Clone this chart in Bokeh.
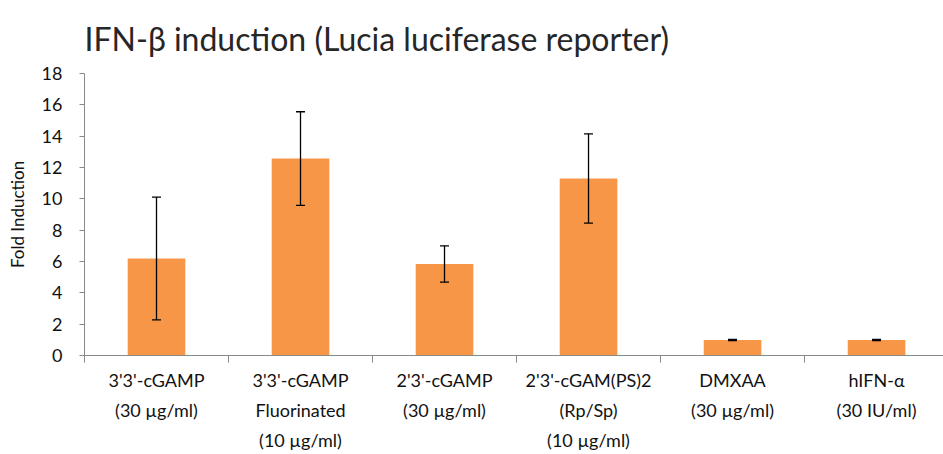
from bokeh.plotting import figure
from bokeh.models import Range1d, FixedTicker, Whisker, ColumnDataSource, TeeHead
from bokeh.embed import file_html
from bokeh.resources import INLINE

categories = ["3'3'-cGAMP\n(30 µg/ml)", "3'3'-cGAMP\nFluorinated\n(10 µg/ml)", "2'3'-cGAMP\n(30 µg/ml)",
              "2'3'-cGAM(PS)2\n(Rp/Sp)\n(10 µg/ml)", "DMXAA\n(30 µg/ml)", "hIFN-α\n(30 IU/ml)"]
values = [6.19, 12.57, 5.84, 11.30, 0.99, 0.99]
errors = [3.92, 2.99, 1.16, 2.85, 0.04, 0.04]
y_ticks = [0, 2, 4, 6, 8, 10, 12, 14, 16, 18]

xs = [i + 0.5 for i in range(len(categories))]
bounds = list(range(len(categories) + 1))

src = ColumnDataSource(dict(x=xs, top=values,
                            upper=[v + e for v, e in zip(values, errors)],
                            lower=[v - e for v, e in zip(values, errors)]))

p = figure(width=943, height=454, output_backend="svg", toolbar_location=None,
           x_range=Range1d(0, 5.965), y_range=Range1d(0, 18),
           min_border_left=84, min_border_right=0, min_border_top=70, min_border_bottom=94)
p.outline_line_color = None
p.xgrid.visible = False
p.ygrid.visible = False

p.title.text = "IFN-β induction (Lucia luciferase reporter)"
p.title.text_font = "Lato"
p.title.text_font_style = "normal"
p.title.text_font_size = "32px"
p.title.text_color = "#262626"
p.title.offset = 0
p.title.standoff = 32

p.vbar(x="x", top="top", width=0.40, bottom=0, source=src, fill_color="#F79646", line_color=None)
p.add_layout(Whisker(base="x", upper="upper", lower="lower", source=src, level="overlay",
                     line_color="black", line_width=1.3,
                     upper_head=TeeHead(size=9, line_color="black", line_width=1.3),
                     lower_head=TeeHead(size=9, line_color="black", line_width=1.3)))

ax = p.yaxis[0]
ax.ticker = FixedTicker(ticks=y_ticks)
ax.axis_line_color = "#898989"
ax.major_tick_line_color = "#898989"
ax.major_tick_out = 5
ax.major_tick_in = 0
ax.minor_tick_line_color = None
ax.major_label_text_font = "Lato"
ax.major_label_text_font_size = "18px"
ax.major_label_text_color = "#111111"
ax.major_label_standoff = 17
ax.axis_label = "Fold Induction"
ax.axis_label_text_font = "Lato"
ax.axis_label_text_font_style = "normal"
ax.axis_label_text_font_size = "17px"
ax.axis_label_text_color = "#111111"
ax.axis_label_standoff = 11

bx = p.xaxis[0]
bx.ticker = FixedTicker(ticks=xs, minor_ticks=bounds)
bx.major_label_overrides = {x: c for x, c in zip(xs, categories)}
bx.axis_line_color = "#898989"
bx.major_tick_line_color = None
bx.major_tick_out = 0
bx.major_tick_in = 0
bx.minor_tick_line_color = "#898989"
bx.minor_tick_out = 7
bx.minor_tick_in = 0
bx.major_label_text_font = "Lato"
bx.major_label_text_font_size = "18px"
bx.major_label_text_line_height = 1.38
bx.major_label_text_color = "#111111"
bx.major_label_standoff = 6

open("out.html", "w").write(file_html(p, INLINE))
